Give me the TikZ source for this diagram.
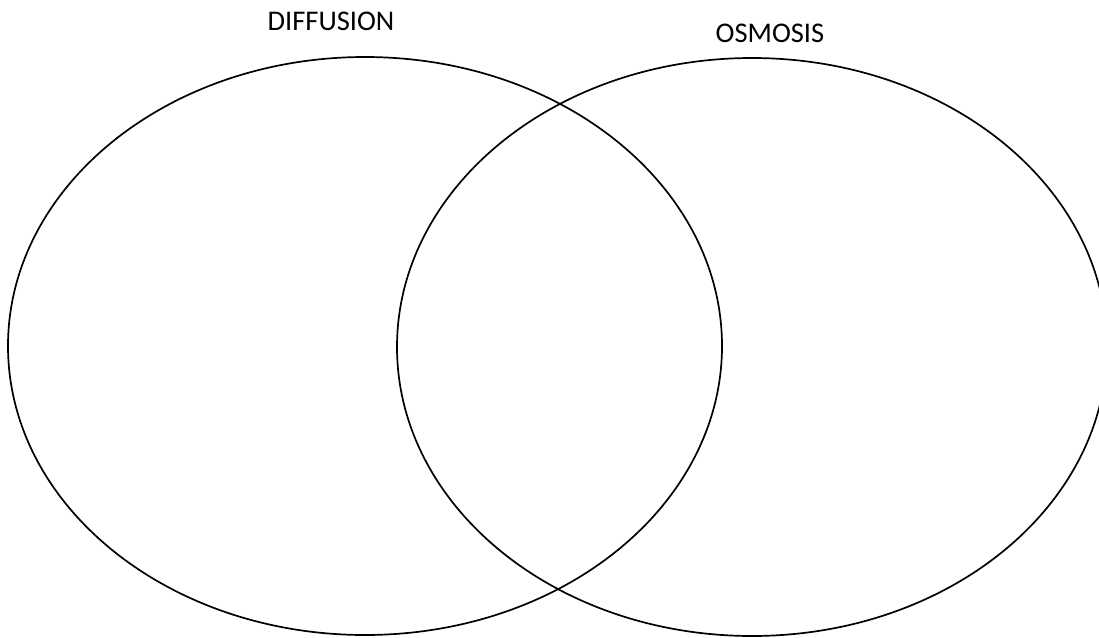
\documentclass[tikz,border=0pt]{standalone}
\usepackage{fontspec}
\setmainfont{Carlito}
\begin{document}
\begin{tikzpicture}[x=1pt,y=-1pt,
  venn/.style={draw=black,line width=1.7pt},
  lbl/.style={font=\fontsize{28.5}{32}\selectfont,inner sep=0pt}]
\useasboundingbox (0,0) rectangle (1099,637);
\clip (0,0) rectangle (1099,637);
\draw[venn] (365,346) ellipse [x radius=357,y radius=289];
\draw[venn] (752,347) ellipse [x radius=355,y radius=289];
\node[lbl] (diff) at (331,21) {DIFFUSION};
\node[lbl] (osm) at (770,33) {OSMOSIS};
\end{tikzpicture}
\end{document}
